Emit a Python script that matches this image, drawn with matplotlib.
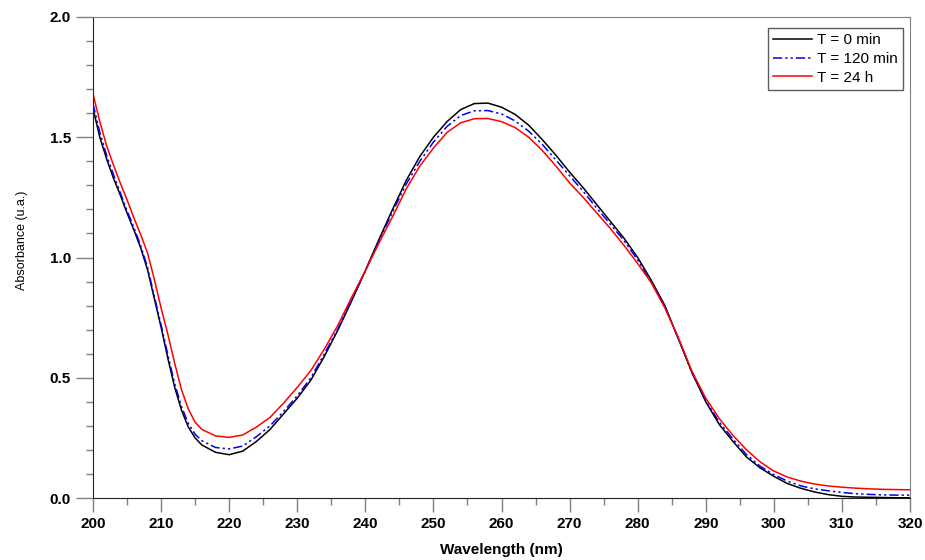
import matplotlib
matplotlib.use("Agg")
import matplotlib.pyplot as plt
from matplotlib.ticker import MultipleLocator, FormatStrFormatter

plt.rcParams['font.family'] = ['Liberation Sans', 'DejaVu Sans']

# wavelengths (nm)
wl = [200, 201, 202, 203, 204, 205, 206, 207, 208, 209, 210, 211, 212, 213, 214, 215, 216,
      218, 220, 222, 224, 226, 228, 230, 232, 234, 236, 238, 240, 242, 244, 246, 248, 250,
      252, 254, 256, 258, 260, 262, 264, 266, 268, 270, 272, 274, 276, 278, 280, 282, 284,
      286, 288, 290, 292, 294, 296, 298, 300, 302, 304, 306, 308, 310, 312, 314, 316, 318, 320]

# T = 0 min
abs_0 = [1.62, 1.50, 1.41, 1.33, 1.26, 1.185, 1.115, 1.04, 0.95, 0.83, 0.71, 0.58, 0.46, 0.365, 0.295, 0.25, 0.22,
         0.19, 0.18, 0.195, 0.235, 0.285, 0.35, 0.415, 0.49, 0.59, 0.70, 0.82, 0.945, 1.075, 1.20, 1.32, 1.42, 1.50,
         1.565, 1.615, 1.64, 1.642, 1.625, 1.595, 1.55, 1.49, 1.425, 1.355, 1.29, 1.22, 1.15, 1.08, 1.0, 0.905, 0.80,
         0.66, 0.52, 0.40, 0.305, 0.235, 0.17, 0.125, 0.09, 0.06, 0.04, 0.025, 0.014, 0.007, 0.004, 0.003, 0.002, 0.001, 0.001]

# T = 120 min
abs_120 = [1.64, 1.52, 1.425, 1.345, 1.27, 1.195, 1.125, 1.05, 0.96, 0.84, 0.72, 0.595, 0.475, 0.38, 0.31, 0.265, 0.238,
           0.21, 0.204, 0.216, 0.255, 0.30, 0.36, 0.425, 0.50, 0.60, 0.705, 0.825, 0.945, 1.07, 1.19, 1.305, 1.40, 1.48,
           1.545, 1.59, 1.61, 1.611, 1.597, 1.568, 1.525, 1.47, 1.405, 1.34, 1.275, 1.205, 1.138, 1.07, 0.99, 0.90, 0.795,
           0.662, 0.52, 0.405, 0.315, 0.245, 0.18, 0.132, 0.097, 0.07, 0.05, 0.038, 0.03, 0.023, 0.018, 0.015, 0.013, 0.012, 0.012]

# T = 24 h
abs_24h = [1.68, 1.565, 1.465, 1.385, 1.31, 1.24, 1.165, 1.095, 1.02, 0.91, 0.79, 0.68, 0.56, 0.45, 0.37, 0.315, 0.285,
           0.258, 0.252, 0.262, 0.295, 0.335, 0.395, 0.46, 0.53, 0.62, 0.72, 0.835, 0.945, 1.06, 1.17, 1.285, 1.38, 1.455,
           1.52, 1.56, 1.577, 1.578, 1.565, 1.54, 1.50, 1.445, 1.38, 1.31, 1.25, 1.185, 1.12, 1.05, 0.975, 0.895, 0.79,
           0.665, 0.525, 0.415, 0.33, 0.26, 0.20, 0.15, 0.112, 0.087, 0.07, 0.058, 0.05, 0.045, 0.041, 0.038, 0.036, 0.035, 0.034]

W, H = 925, 560
fig = plt.figure(figsize=(W / 100, H / 100), dpi=100)
# axes box in pixels: x 93..910, y 17..498
ax = fig.add_axes([93 / W, 1 - 498 / H, (910 - 93) / W, (498 - 17) / H])

ax.plot(wl, abs_0, color='black', lw=1.1, label='T = 0 min')
ax.plot(wl, abs_120, color='#0000ee', lw=1.1, dashes=(6, 2, 1.5, 2, 1.5, 2), label='T = 120 min')
ax.plot(wl, abs_24h, color='#ff0000', lw=1.1, label='T = 24 h')

ax.set_xlim(200, 320)
ax.set_ylim(0, 2.0)
ax.xaxis.set_major_locator(MultipleLocator(10))
ax.xaxis.set_minor_locator(MultipleLocator(5))
ax.yaxis.set_major_locator(MultipleLocator(0.5))
ax.yaxis.set_minor_locator(MultipleLocator(0.1))
ax.yaxis.set_major_formatter(FormatStrFormatter('%.1f'))

ax.tick_params(which='major', direction='out', length=10, width=1, color='#808080', pad=4)
ax.tick_params(which='minor', direction='out', length=5, width=1, color='#808080')
ax.tick_params(axis='y', which='major', length=12)
for lab in ax.get_xticklabels() + ax.get_yticklabels():
    lab.set_fontweight('bold')
    lab.set_fontsize(11)

for side in ['left', 'bottom']:
    ax.spines[side].set_color('#222222')
for side in ['top', 'right']:
    ax.spines[side].set_color('#808080')

fig.text(501 / W, 1 - 550 / H, 'Wavelength (nm)', fontsize=11, fontweight='bold',
         ha='center', va='center')
fig.text(22 / W, 1 - 240 / H, 'Absorbance (u.a.)', fontsize=9, rotation=90,
         ha='center', va='center')

leg = ax.legend(loc='upper right', fontsize=11, frameon=True, fancybox=False,
                handlelength=2.5, handletextpad=0.35, borderpad=0.35, labelspacing=0.3,
                borderaxespad=0, bbox_to_anchor=(903 / W, 1 - 28 / H),
                bbox_transform=fig.transFigure)
leg.get_frame().set_edgecolor('#333333')
leg.get_frame().set_linewidth(1.0)

fig.savefig('out.png', dpi=100)
